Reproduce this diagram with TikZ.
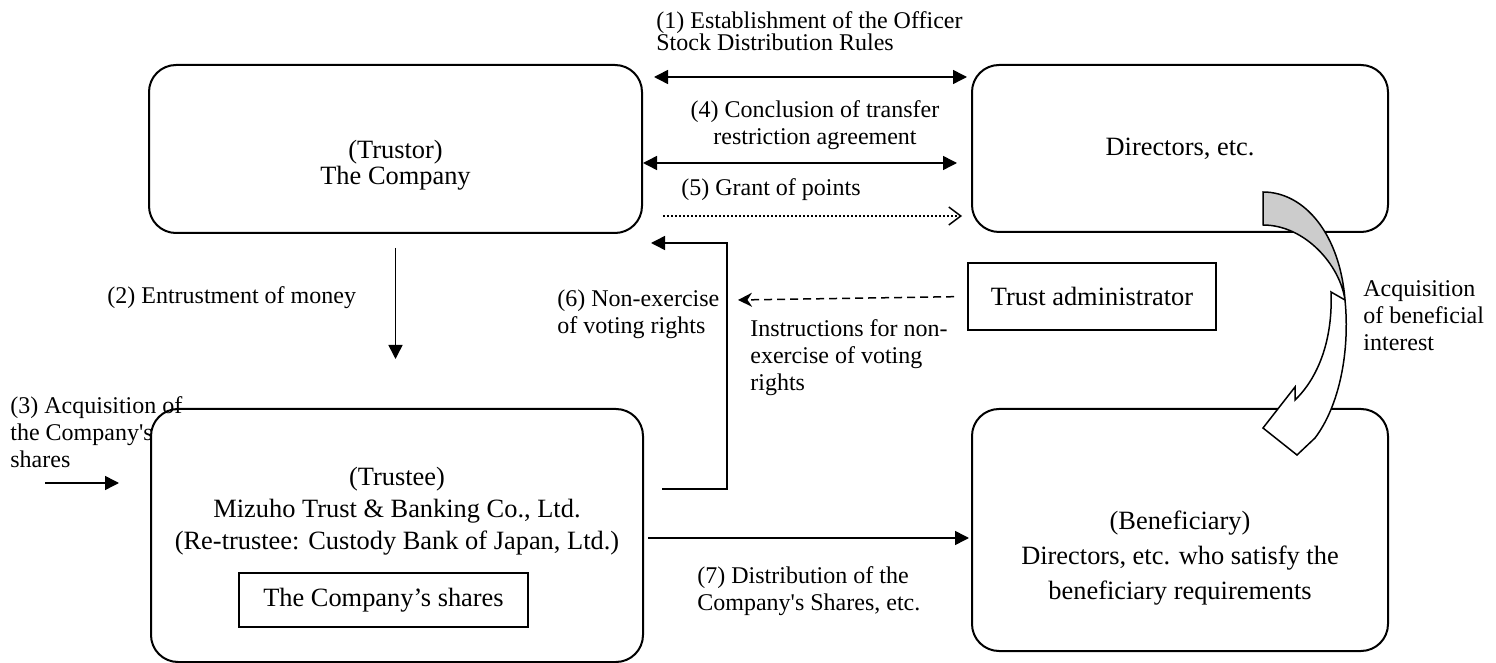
\documentclass[tikz,border=0pt]{standalone}
\usepackage{fontspec}
\setmainfont{Liberation Serif}
\newfontfamily\rawserif{Liberation Serif}
\usetikzlibrary{arrows.meta}
\newcommand{\sq}{{\rawserif\char39}}
\begin{document}
\begin{tikzpicture}[x=0.5pt,y=-0.5pt,
  rbox/.style={draw,line width=1pt,rounded corners=13.5pt,inner sep=0pt},
  boxtext/.style={align=center,font=\fontsize{13.2}{16}\selectfont,inner sep=0pt},
  sbox/.style={draw,line width=1pt,align=center,
    font=\fontsize{13.2}{16}\selectfont,inner sep=0pt},
  lbl/.style={font=\fontsize{12}{13.5}\selectfont,inner sep=0pt},
  conn/.style={line width=0.75pt},
  tri/.style={-{Triangle[length=7pt,width=7pt]}},
  dbl/.style={{Triangle[length=7pt,width=7pt]}-{Triangle[length=7pt,width=7pt]}},
  openarrow/.style={dash pattern=on 0.8pt off 1.2pt,-{Straight Barb[length=6pt,width=9pt,line width=0.75pt]}},
  dasharrow/.style={dash pattern=on 4pt off 2.5pt,-{Stealth[length=7pt,width=7pt]}}]
\useasboundingbox (0,0) rectangle (1496,663);

% boxes
\node[rbox,minimum width=246.5pt,minimum height=84pt] (trustor) at (395.5,149) {};
\node[boxtext,font=\fontsize{13.2}{13}\selectfont] (trustortext) at (395.5,165) {(Trustor)\\The Company};
\node[rbox,minimum width=208pt,minimum height=83.5pt,font=\fontsize{13.2}{16}\selectfont] (directors) at (1180,148.5) {Directors, etc.};
\node[rbox,minimum width=246pt,minimum height=126.5pt] (trustee) at (397,535.5) {};
\node[boxtext] (trusteetext) at (397,511) {(Trustee)\\Mizuho Trust \& Banking Co., Ltd.\\(Re-trustee: Custody Bank of Japan, Ltd.)};
\node[sbox,minimum width=144.5pt,minimum height=27pt] (shares) at (383.5,600) {The Company’s shares};
\node[rbox,minimum width=208pt,minimum height=121pt] (benef) at (1180,530) {};
\node[boxtext,font=\fontsize{13.2}{17.3}\selectfont] (beneftext) at (1180,558) {(Beneficiary)\\Directors, etc. who satisfy the\\beneficiary requirements};
\node[sbox,minimum width=124pt,minimum height=33.5pt] (admin) at (1092,296.5) {Trust administrator};

% labels
\node[lbl,anchor=west,align=left,font=\fontsize{12}{11}\selectfont] (l1) at (656,31) {(1) Establishment of the Officer\\Stock Distribution Rules};
\node[lbl,align=center] (l4) at (815,125) {(4) Conclusion of transfer\\restriction agreement};
\node[lbl] (l5) at (771,190) {(5) Grant of points};
\node[lbl,anchor=west,align=left] (l6) at (557,314) {(6) Non-exercise\\of voting rights};
\node[lbl,anchor=west,align=left] (linst) at (750,358) {Instructions for non-\\exercise of voting\\rights};
\node[lbl,anchor=west] (l2) at (107,298) {(2) Entrustment of money};
\node[lbl,anchor=west,align=left] (l3) at (10,432) {(3) Acquisition of\\the Company\sq s\\shares};
\node[lbl,anchor=west,align=left] (lacq) at (1363,315.5) {Acquisition\\of beneficial\\interest};
\node[lbl,anchor=west,align=left] (l7) at (697,591) {(7) Distribution of the\\Company\sq s Shares, etc.};

% helper coordinates
\coordinate (y1) at (0,77);
\coordinate (y4) at (0,163);
\coordinate (y5) at (0,216);
\coordinate (y7) at (0,538);
\coordinate (ybr) at (0,489);
\coordinate (bk) at (727,243);
\coordinate (instend) at (738,300);
\coordinate (a3s) at (45,483);

% connectors
\draw[conn,dbl,shorten <=5.5pt,shorten >=2pt] (trustor.east |- y1) -- (directors.west |- y1);
\draw[conn,dbl,shorten >=7pt] (trustor.east |- y4) -- (directors.west |- y4);
\draw[conn,openarrow,shorten <=10pt,shorten >=4.5pt] (trustor.east |- y5) -- (directors.west |- y5);
\draw[conn,tri,shorten <=7pt,shorten >=24.5pt] (trustor.south) -- (trustor.south |- trustee.north);
\draw[conn,tri,shorten <=9pt,shorten >=4pt] (trustee.east |- ybr) -| (bk) -- (trustor.east |- bk);
\draw[conn,dasharrow,shorten <=6.5pt] (admin.west) -- (instend);
\draw[conn,tri,shorten <=2pt,shorten >=1pt] (trustee.east |- y7) -- (benef.west |- y7);
\draw[conn,tri,shorten >=15.5pt] (a3s) -- (trustee.west |- a3s);

% curved arrow (acquisition of beneficial interest)
\draw[line width=0.75pt,fill=white,line join=miter]
  (1331,292) .. controls (1333,340) and (1318,378) .. (1295,400)
  -- (1295,387) -- (1263,428) -- (1297,455) -- (1315,438)
  .. controls (1340,405) and (1350,350) .. (1345,300) -- cycle;
\draw[line width=0.75pt,fill=black!20]
  (1263,192) .. controls (1305,192) and (1340,235) .. (1345,300)
  .. controls (1340,265) and (1305,225) .. (1263,225) -- cycle;
\end{tikzpicture}
\end{document}
